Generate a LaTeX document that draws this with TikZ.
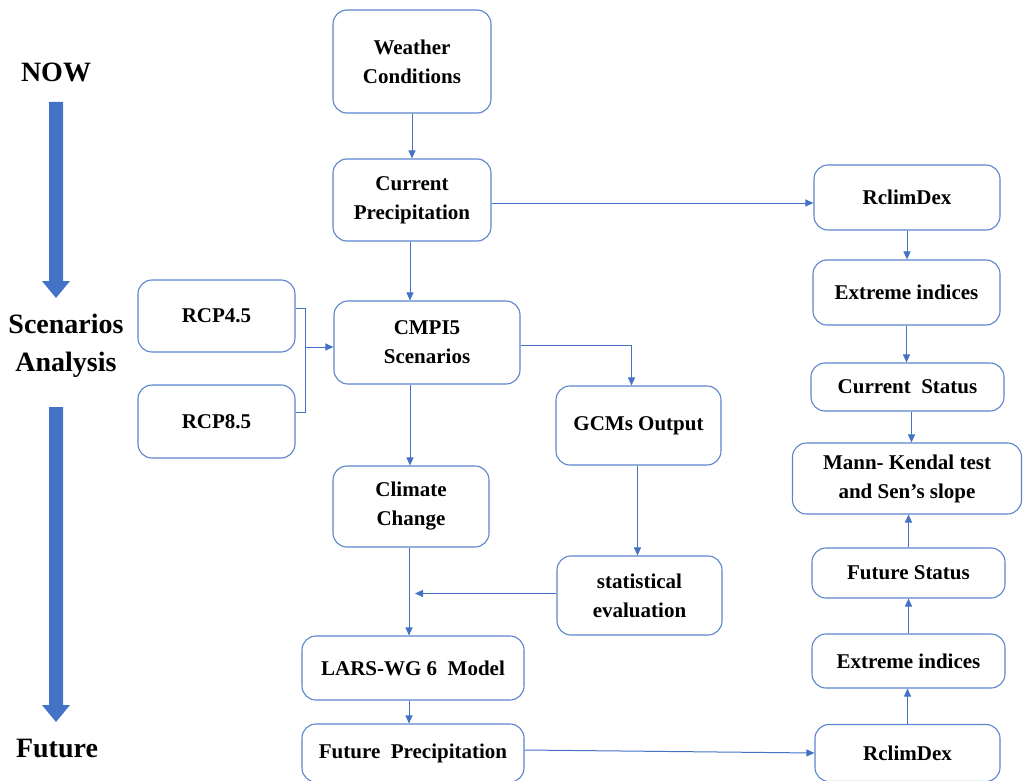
\documentclass[tikz,border=0pt]{standalone}
\usepackage{fontspec}
\setmainfont{Liberation Serif}
\usetikzlibrary{arrows.meta}
\definecolor{bblue}{HTML}{4472C4}
\definecolor{boxblue}{HTML}{5B85CC}
\begin{document}
\begin{tikzpicture}[x=1pt,y=-1pt,
 box/.style={draw=boxblue, line width=1.1pt, rounded corners=14pt, align=center, inner sep=0pt, fill=white,
   font=\bfseries\fontsize{21}{29}\selectfont},
 conn/.style={draw=bblue, line width=1pt, -{Triangle[length=8pt,width=7pt]}},
 plainline/.style={draw=bblue, line width=1pt},
 side/.style={font=\bfseries\fontsize{28}{38}\selectfont, align=center, inner sep=0pt},
 bigarrow/.style={fill=bblue}]
\useasboundingbox (0,0) rectangle (1023,781);

% side labels and arrows
\node[side] (now) at (56,72) {NOW};
\node[side] (scen) at (66,346) {Scenarios\\Analysis};
\node[side] (fut) at (57,748) {Future};
\fill[bigarrow] (49,102) -- (63,102) -- (63,281) -- (70,281) -- (56,298) -- (42,281) -- (49,281) -- cycle;
\fill[bigarrow] (49,407) -- (63,407) -- (63,705) -- (70,705) -- (56,722) -- (42,705) -- (49,705) -- cycle;

% middle column
\node[box, minimum width=158pt, minimum height=103pt] (wc) at (412,61.5) {Weather\\Conditions};
\node[box, minimum width=158pt, minimum height=82pt] (cp) at (412,200) {Current\\Precipitation};
\node[box, minimum width=186pt, minimum height=83pt] (cm) at (427,342.5) {CMPI5\\Scenarios};
\node[box, minimum width=157pt, minimum height=72pt] (r45) at (216.5,316) {RCP4.5};
\node[box, minimum width=157pt, minimum height=73pt] (r85) at (216.5,421.5) {RCP8.5};
\node[box, minimum width=165pt, minimum height=79pt] (gcm) at (638.5,425.5) {GCMs Output};
\node[box, minimum width=156pt, minimum height=81pt] (cc) at (411,506.5) {Climate\\Change};
\node[box, minimum width=165pt, minimum height=79pt] (st) at (639.5,595.5) {statistical\\evaluation};
\node[box, minimum width=222pt, minimum height=64pt] (lars) at (413,668) {LARS-WG 6\ \ Model};
\node[box, minimum width=222pt, minimum height=58pt] (fp) at (413,753) {Future\ \ Precipitation};

% right column
\node[box, minimum width=186pt, minimum height=65pt] (rc1) at (907,197.5) {RclimDex};
\node[box, minimum width=187pt, minimum height=65pt] (ex1) at (906.5,292.5) {Extreme indices};
\node[box, minimum width=193pt, minimum height=48pt] (cs) at (907.5,387) {Current\ \ Status};
\node[box, minimum width=229pt, minimum height=71pt] (mk) at (907,478.5) {Mann- Kendal test\\and Sen’s slope};
\node[box, minimum width=193pt, minimum height=50pt] (fs) at (908.5,573) {Future Status};
\node[box, minimum width=193pt, minimum height=54pt] (ex2) at (908.5,661) {Extreme indices};
\node[box, minimum width=185pt, minimum height=57pt] (rc2) at (907.5,753) {RclimDex};

% connectors middle
\draw[conn] (wc.south) -- (cp.north);
\draw[conn] ([xshift=-2pt]cp.south) -- ([xshift=-2pt]cp.south |- cm.north);
\draw[conn] ([yshift=-3pt]cp.east) -- ([yshift=-3pt]cp.east -| rc1.west);
\draw[plainline] ([yshift=8pt]r45.east) -- ++(10,0) |- ([yshift=9pt]r85.east);
\coordinate (bx) at (305.5,347);
\draw[conn] (bx) -- (bx -| cm.west);
\draw[conn] ([yshift=-3pt]cm.east) -| ([xshift=-7pt]gcm.north);
\draw[conn] ([xshift=-1pt]cc.north |- cm.south) -- ([xshift=-1pt]cc.north);
\draw[conn] ([xshift=-1pt]gcm.south) -- ([xshift=-1pt]gcm.south |- st.north);
\draw[conn] ([xshift=-2pt]cc.south) -- ([xshift=-2pt]cc.south |- lars.north);
\draw[conn] ([yshift=2pt]st.west) -- ([xshift=4pt,yshift=2pt]cc.south |- st.west);
\draw[conn] ([xshift=-4pt]lars.south) -- ([xshift=-4pt]lars.south |- fp.north);
\draw[conn] ([yshift=3pt]fp.east) -- (rc2.west);

% connectors right
\draw[conn] (rc1.south) -- (rc1.south |- ex1.north);
\draw[conn] (ex1.south) -- (ex1.south |- cs.north);
\draw[conn] ([xshift=4pt]cs.south) -- ([xshift=4pt]cs.south |- mk.north);
\draw[conn] (rc2.north) -- (rc2.north |- ex2.south);
\draw[conn] (ex2.north) -- (ex2.north |- fs.south);
\draw[conn] (fs.north) -- (fs.north |- mk.south);
\end{tikzpicture}
\end{document}
